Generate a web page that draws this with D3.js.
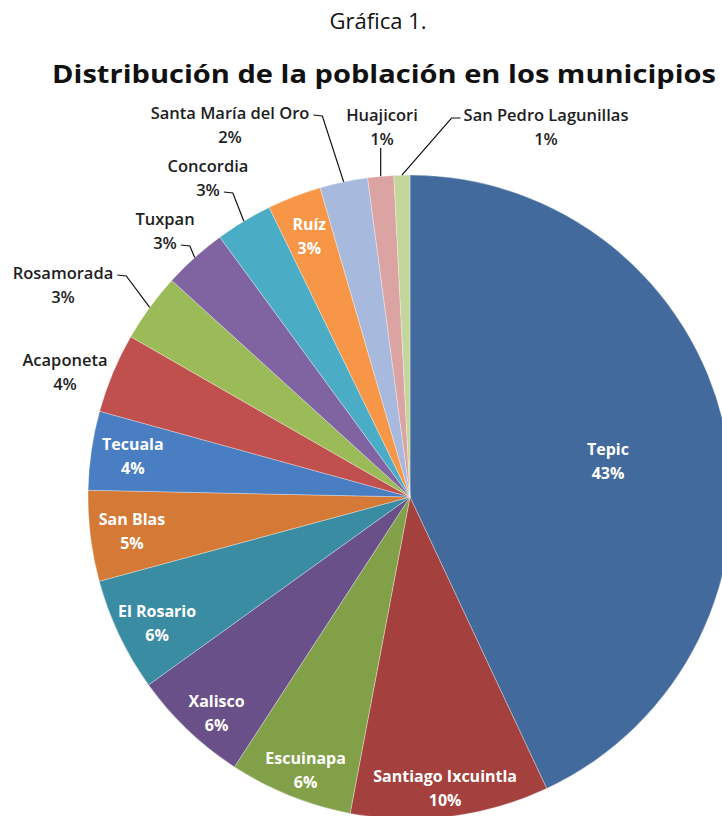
<!DOCTYPE html>
<html><head><meta charset="utf-8">
<script src="https://cdn.jsdelivr.net/npm/d3@7"></script>
<style>body{margin:0;background:#fff} svg{display:block}</style>
</head><body>
<svg id="c" width="722" height="816"></svg>
<script>
// ---- data ----
const municipios = ["Tepic","Santiago Ixcuintla","Escuinapa","Xalisco","El Rosario","San Blas","Tecuala","Acaponeta","Rosamorada","Tuxpan","Concordia","Ruíz","Santa María del Oro","Huajicori","San Pedro Lagunillas"];
const porcentajes = [43.0, 9.95, 6.2, 5.9, 5.7, 4.55, 3.95, 4.0, 3.45, 3.2, 2.85, 2.7, 2.4, 1.3, 0.8];
const colores = ["#436a9c","#a4403d","#82a048","#6a5089","#3a8ca3","#d47a36","#4a7ec2","#c0504d","#9bbb59","#8064a2","#4bacc6","#f79646","#a7b9dc","#dba3a2","#c3d69b"];
const titulo = "Distribución de la población en los municipios";
const subtitulo = "Gráfica 1.";

// ---- layout (not data) ----
const W = 722, H = 816, cx = 410, cy = 497, R = 322;
const outside = {
  "Acaponeta":            {x: 65,  y: 371, leader: null},
  "Rosamorada":           {x: 63,  y: 284, leader: "r1"},
  "Tuxpan":               {x: 165, y: 230, leader: "r2"},
  "Concordia":            {x: 208, y: 177, leader: "r2"},
  "Santa María del Oro":  {x: 230, y: 124, leader: "r1"},
  "Huajicori":            {x: 382, y: 126, leader: "b"},
  "San Pedro Lagunillas": {x: 546, y: 126, leader: "l1"}
};
const FONT = "'Open Sans', 'DejaVu Sans', sans-serif";

const svg = d3.select("#c");
const data = municipios.map((m, i) => ({name: m, v: porcentajes[i], color: colores[i]}));
const total = d3.sum(data, d => d.v);

svg.append("text").attr("x", 378).attr("y", 29).attr("text-anchor", "middle")
  .style("font-family", FONT).style("font-size", "22px").attr("fill", "#111").text(subtitulo);
svg.append("text").attr("x", 384).attr("y", 83).attr("text-anchor", "middle")
  .style("font-family", FONT).style("font-size", "25px").style("font-weight", 700)
  .attr("textLength", 664).attr("lengthAdjust", "spacingAndGlyphs")
  .attr("fill", "#111").text(titulo);

const pie = d3.pie().sort(null).value(d => d.v);
const arcs = pie(data);
const arc = d3.arc().innerRadius(0).outerRadius(R);
const g = svg.append("g").attr("transform", `translate(${cx},${cy})`);

g.selectAll("path.slice").data(arcs).join("path").attr("class", "slice")
  .attr("d", arc).attr("fill", d => d.data.color)
  .attr("stroke", "#ffffff").attr("stroke-opacity", 0.45).attr("stroke-width", 0.7);

const pct = d => Math.round(d.data.v / total * 100) + "%";

// inside labels ("inside end" placement, nudged down near the bottom of the pie)
arcs.filter(d => !outside[d.data.name]).forEach(d => {
  const frac = d.data.v / total;
  const mid = (d.startAngle + d.endAngle) / 2;
  const big = frac > 0.3;
  const r = big ? 0.63 * R : 0.87 * R;
  let [x, y] = d3.arc().innerRadius(r).outerRadius(r).centroid(d);
  if (big) y += 8;
  else y += 13 * Math.max(0, Math.min(1, (-Math.cos(mid) - 0.2) / 0.5));
  const t = g.append("text").attr("text-anchor", "middle")
    .style("font-family", FONT).style("font-size", "16px").style("font-weight", 700)
    .attr("fill", "#ffffff");
  t.append("tspan").attr("x", x).attr("y", y - 12).attr("dominant-baseline", "central").text(d.data.name);
  t.append("tspan").attr("x", x).attr("y", y + 12).attr("dominant-baseline", "central").text(pct(d));
});

// outside labels with leaders
const lead = svg.append("g");
arcs.filter(d => outside[d.data.name]).forEach(d => {
  const o = outside[d.data.name];
  const t = svg.append("text").attr("text-anchor", "middle")
    .style("font-family", FONT).style("font-size", "16.5px").style("font-weight", 600)
    .attr("fill", "#1e1e1e");
  const s1 = t.append("tspan").attr("x", o.x).attr("y", o.y - 12).attr("dominant-baseline", "central").text(d.data.name);
  const s2 = t.append("tspan").attr("x", o.x).attr("y", o.y + 12).attr("dominant-baseline", "central").text(pct(d));
  if (!o.leader) return;
  const w1 = s1.node().getComputedTextLength(), w2 = s2.node().getComputedTextLength();
  const mid = (d.startAngle + d.endAngle) / 2;
  const ex = cx + R * Math.sin(mid), ey = cy - R * Math.cos(mid);
  let pts;
  if (o.leader === "r1") {
    const sx = o.x + w1 / 2 + 4, sy = o.y - 12 + 3;
    pts = [[sx, sy], [sx + 9, sy + 1], [ex, ey]];
  } else if (o.leader === "r2") {
    const sx = o.x + w2 / 2 + 4, sy = o.y + 12 + 3;
    pts = [[sx, sy], [sx + 9, sy + 1], [ex, ey]];
  } else if (o.leader === "l1") {
    const sx = o.x - w1 / 2 - 3, sy = o.y - 12 + 4;
    pts = [[sx, sy], [sx - 9, sy], [ex, ey]];
  } else {
    pts = [[ex, o.y + 12 + 10], [ex, ey]];
  }
  lead.append("path").attr("d", d3.line()(pts)).attr("fill", "none")
    .attr("stroke", "#111").attr("stroke-width", 1.2);
});
lead.raise();
</script>
</body></html>
